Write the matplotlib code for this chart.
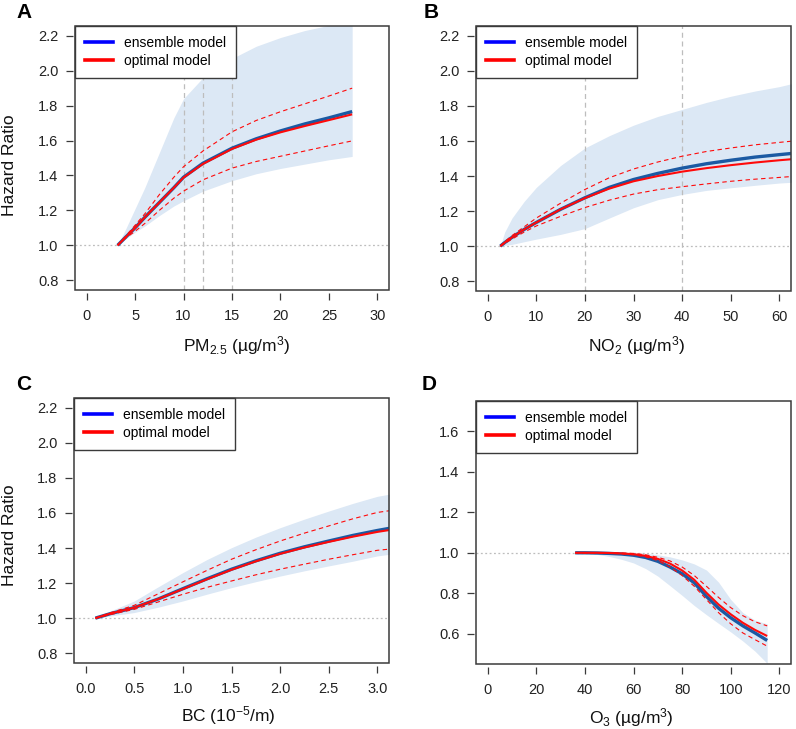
import matplotlib
matplotlib.use("Agg")
import matplotlib.pyplot as plt
from matplotlib.lines import Line2D
from matplotlib.patches import Rectangle

plt.rcParams['font.family'] = ['Liberation Sans', 'DejaVu Sans']
plt.rcParams['mathtext.fontset'] = 'custom'
plt.rcParams['mathtext.rm'] = 'Liberation Sans'
plt.rcParams['mathtext.it'] = 'Liberation Sans'
plt.rcParams['mathtext.bf'] = 'Liberation Sans:bold'

# ---------------- Panel A : PM2.5 ----------------
pm_x = [3.2, 4, 5, 6, 7.5, 9, 10, 12, 15, 17.5, 20, 22.5, 25, 27.4]
pm_ens = [1.0, 1.045, 1.10, 1.16, 1.245, 1.33, 1.39, 1.47, 1.556, 1.61, 1.655, 1.695, 1.73, 1.766]
pm_opt = [1.0, 1.045, 1.10, 1.16, 1.245, 1.33, 1.388, 1.466, 1.552, 1.605, 1.647, 1.683, 1.717, 1.75]
pm_up = [1.0, 1.05, 1.115, 1.18, 1.29, 1.39, 1.45, 1.54, 1.65, 1.715, 1.765, 1.81, 1.855, 1.90]
pm_lo = [1.0, 1.04, 1.08, 1.125, 1.2, 1.27, 1.31, 1.375, 1.442, 1.48, 1.51, 1.54, 1.57, 1.598]
pm_band_hi = [1.0, 1.09, 1.21, 1.33, 1.53, 1.73, 1.84, 1.96, 2.07, 2.14, 2.19, 2.23, 2.26, 2.29]
pm_band_lo = [1.0, 1.035, 1.075, 1.11, 1.17, 1.225, 1.255, 1.31, 1.37, 1.41, 1.44, 1.465, 1.49, 1.509]
pm_vlines = [10, 12, 15]
pm_xticks = [0, 5, 10, 15, 20, 25, 30]

# ---------------- Panel B : NO2 ----------------
no2_x = [2.6, 3.5, 5, 7.5, 10, 15, 20, 25, 30, 35, 40, 45, 50, 55, 60, 63]
no2_ens = [1.0, 1.02, 1.05, 1.095, 1.135, 1.21, 1.276, 1.335, 1.38, 1.415, 1.445, 1.47, 1.49, 1.508, 1.522, 1.53]
no2_opt = [1.0, 1.02, 1.05, 1.095, 1.135, 1.21, 1.274, 1.328, 1.37, 1.40, 1.425, 1.445, 1.462, 1.477, 1.49, 1.497]
no2_up = [1.0, 1.025, 1.06, 1.11, 1.16, 1.245, 1.323, 1.39, 1.44, 1.48, 1.513, 1.54, 1.56, 1.578, 1.592, 1.60]
no2_lo = [1.0, 1.015, 1.04, 1.08, 1.115, 1.17, 1.22, 1.262, 1.297, 1.322, 1.339, 1.355, 1.37, 1.382, 1.392, 1.398]
no2_band_hi = [1.0, 1.08, 1.16, 1.255, 1.335, 1.46, 1.56, 1.63, 1.69, 1.74, 1.78, 1.82, 1.855, 1.885, 1.91, 1.93]
no2_band_lo = [1.0, 1.004, 1.01, 1.025, 1.04, 1.067, 1.10, 1.16, 1.219, 1.265, 1.295, 1.318, 1.333, 1.347, 1.36, 1.365]
no2_vlines = [20, 40]
no2_xticks = [0, 10, 20, 30, 40, 50, 60]

# ---------------- Panel C : BC ----------------
bc_x = [0.1, 0.25, 0.5, 0.75, 1.0, 1.25, 1.5, 1.75, 2.0, 2.25, 2.5, 2.75, 3.0, 3.15]
bc_ens = [1.0, 1.025, 1.06, 1.11, 1.168, 1.225, 1.279, 1.327, 1.37, 1.407, 1.44, 1.472, 1.50, 1.515]
bc_opt = [1.0, 1.025, 1.06, 1.11, 1.166, 1.222, 1.276, 1.324, 1.367, 1.403, 1.435, 1.465, 1.492, 1.505]
bc_up = [1.0, 1.03, 1.073, 1.14, 1.207, 1.273, 1.336, 1.39, 1.44, 1.485, 1.526, 1.567, 1.603, 1.615]
bc_lo = [1.0, 1.02, 1.05, 1.093, 1.136, 1.176, 1.212, 1.247, 1.279, 1.308, 1.336, 1.362, 1.387, 1.395]
bc_band_hi = [1.0, 1.04, 1.098, 1.18, 1.26, 1.335, 1.402, 1.462, 1.516, 1.565, 1.611, 1.655, 1.695, 1.71]
bc_band_lo = [1.0, 1.012, 1.032, 1.063, 1.098, 1.137, 1.174, 1.208, 1.24, 1.27, 1.298, 1.325, 1.355, 1.366]
bc_xticks = [0.0, 0.5, 1.0, 1.5, 2.0, 2.5, 3.0]

# ---------------- Panel D : O3 ----------------
o3_x = [36, 40, 45, 50, 55, 60, 65, 70, 75, 80, 85, 90, 95, 100, 105, 110, 115]
o3_ens = [1.0, 1.0, 0.999, 0.997, 0.994, 0.988, 0.977, 0.958, 0.93, 0.897, 0.852, 0.785, 0.727, 0.68, 0.64, 0.605, 0.568]
o3_opt = [1.0, 1.0, 1.0, 0.999, 0.997, 0.993, 0.985, 0.97, 0.947, 0.913, 0.867, 0.803, 0.745, 0.697, 0.655, 0.62, 0.59]
o3_up = [1.0, 1.0, 1.0, 1.0, 0.999, 0.997, 0.99, 0.978, 0.96, 0.93, 0.888, 0.835, 0.78, 0.73, 0.69, 0.66, 0.64]
o3_lo = [1.0, 1.0, 0.999, 0.998, 0.995, 0.99, 0.98, 0.962, 0.93, 0.888, 0.835, 0.77, 0.705, 0.65, 0.605, 0.572, 0.54]
o3_band_hi = [1.0, 1.0, 1.0, 1.0, 1.0, 1.0, 0.998, 0.99, 0.98, 0.965, 0.945, 0.915, 0.855, 0.77, 0.705, 0.668, 0.65]
o3_band_lo = [1.0, 0.998, 0.992, 0.982, 0.968, 0.95, 0.922, 0.885, 0.838, 0.79, 0.74, 0.695, 0.652, 0.61, 0.565, 0.515, 0.455]
o3_xticks = [0, 20, 40, 60, 80, 100, 120]

hr_yticks_big = [0.8, 1.0, 1.2, 1.4, 1.6, 1.8, 2.0, 2.2]
hr_yticks_o3 = [0.6, 0.8, 1.0, 1.2, 1.4, 1.6]

legend_labels = ['ensemble model', 'optimal model']

ENS_C = '#1b5aa3'
OPT_C = '#ff0a0a'
BAND_C = '#dce8f5'
BOX_C = '#3a3a3a'
REF_C = '#bdbdbd'

W, H = 796, 729
fig = plt.figure(figsize=(W / 100, H / 100), dpi=100)


def make_ax(l, t, r, b):
    return fig.add_axes([l / W, 1 - b / H, (r - l) / W, (b - t) / H])


def draw(ax, x, ens, opt, up, lo, bhi, blo, xlim, ylim, xticks, yticks, xfmt, vlines=()):
    ax.fill_between(x, blo, bhi, color=BAND_C, lw=0, zorder=1)
    for v in vlines:
        ax.axvline(v, color=REF_C, lw=0.9, ls=(0, (4, 3)), zorder=2)
    ax.axhline(1.0, color=REF_C, lw=0.9, ls=(0, (1.5, 2)), zorder=2)
    ax.plot(x, ens, color=ENS_C, lw=2.4, zorder=3, solid_capstyle='butt')
    ax.plot(x, opt, color=OPT_C, lw=1.5, zorder=4, solid_capstyle='butt')
    ax.plot(x, up, color=OPT_C, lw=0.8, ls=(0, (4, 3)), zorder=4)
    ax.plot(x, lo, color=OPT_C, lw=0.8, ls=(0, (4, 3)), zorder=4)
    ax.set_xlim(*xlim)
    ax.set_ylim(*ylim)
    ax.set_xticks(xticks)
    ax.set_xticklabels([xfmt.format(v) for v in xticks])
    ax.set_yticks(yticks)
    ax.set_yticklabels(['{:.1f}'.format(v) for v in yticks])
    for s in ['top', 'right']:
        ax.spines[s].set_visible(False)
    for s in ['left', 'bottom']:
        ax.spines[s].set_position(('outward', 1.8))
        ax.spines[s].set_visible(False)
    ax.tick_params(axis='both', direction='out', length=5, width=0.9, color=BOX_C,
                   labelsize=10.5, labelcolor='#222222')
    ax.tick_params(axis='x', pad=7)
    ax.tick_params(axis='y', pad=5)
    ax.add_patch(Rectangle((0, 0), 1, 1, transform=ax.transAxes, fill=False,
                           ec=BOX_C, lw=1.1, clip_on=False, zorder=6))
    handles = [Line2D([], [], color='#0000ff', lw=2.6), Line2D([], [], color='#ff0000', lw=2.6)]
    leg = ax.legend(handles, legend_labels, loc='upper left', bbox_to_anchor=(0, 1),
                    borderaxespad=0, frameon=True, fancybox=False, edgecolor=BOX_C,
                    framealpha=1, fontsize=10, handlelength=2.0, handletextpad=0.8,
                    borderpad=0.72, labelspacing=0.3)
    leg.get_frame().set_linewidth(1.0)
    leg.set_zorder(7)


def ext(a, b):
    d = (b - a) * 0.04
    return (a - d, b + d)


axA = make_ax(75, 26, 389, 290)
draw(axA, pm_x, pm_ens, pm_opt, pm_up, pm_lo, pm_band_hi, pm_band_lo,
     ext(0, 30), ext(0.8, 2.2), pm_xticks, hr_yticks_big, '{:d}', pm_vlines)

axB = make_ax(476, 26, 791, 291)
draw(axB, no2_x, no2_ens, no2_opt, no2_up, no2_lo, no2_band_hi, no2_band_lo,
     ext(0, 60), ext(0.8, 2.2), no2_xticks, hr_yticks_big, '{:d}', no2_vlines)

axC = make_ax(74, 398, 389, 663)
draw(axC, bc_x, bc_ens, bc_opt, bc_up, bc_lo, bc_band_hi, bc_band_lo,
     ext(0, 3), ext(0.8, 2.2), bc_xticks, hr_yticks_big, '{:.1f}')

axD = make_ax(476, 401, 791, 664)
draw(axD, o3_x, o3_ens, o3_opt, o3_up, o3_lo, o3_band_hi, o3_band_lo,
     ext(0, 120), ext(0.5, 1.7), o3_xticks, hr_yticks_o3, '{:d}')


def ftext(x, y, s, **kw):
    fig.text(x / W, 1 - y / H, s, **kw)


# panel letters
for px, py, s in [(16, 13, 'A'), (424, 13, 'B'), (16, 384, 'C'), (422, 385, 'D')]:
    ftext(px, py, s, fontsize=15, fontweight='bold', ha='left', va='center')

# y labels
ftext(9.5, 165, 'Hazard Ratio', fontsize=12.5, rotation=90, ha='center', va='center', color='#111111')
ftext(9.5, 535, 'Hazard Ratio', fontsize=12.5, rotation=90, ha='center', va='center', color='#111111')

# x labels
ftext(237, 346, 'PM$_{2.5}$ (µg/m$^{3}$)', fontsize=12.5, ha='center', va='center', color='#111111')
ftext(637, 346, 'NO$_{2}$ (µg/m$^{3}$)', fontsize=12.5, ha='center', va='center', color='#111111')
ftext(228, 716, 'BC (10$^{-5}$/m)', fontsize=12.5, ha='center', va='center', color='#111111')
ftext(631, 718, 'O$_{3}$ (µg/m$^{3}$)', fontsize=12.5, ha='center', va='center', color='#111111')

fig.savefig('out.png', dpi=100, facecolor='white')
